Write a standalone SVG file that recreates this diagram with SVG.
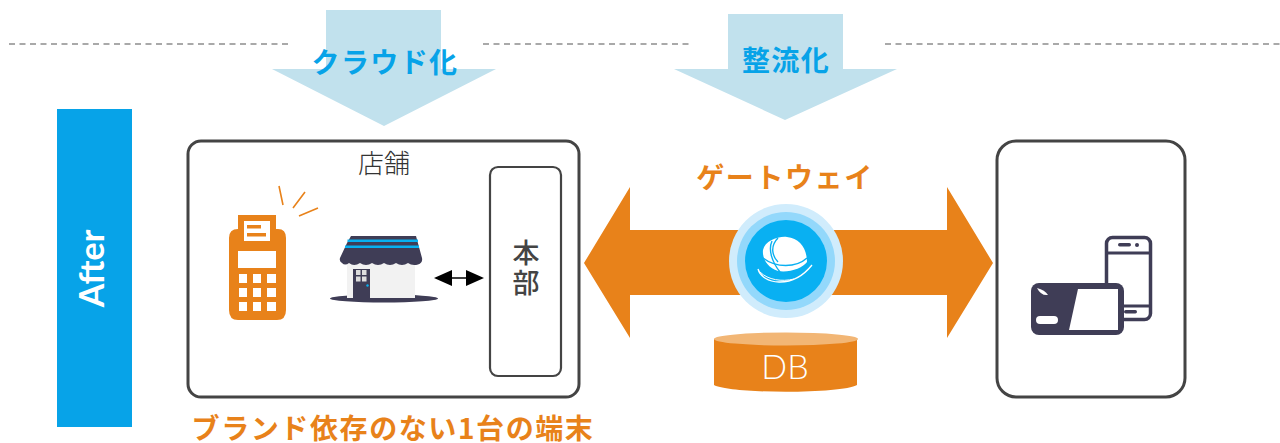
<svg xmlns="http://www.w3.org/2000/svg" width="1280" height="443" viewBox="0 0 1280 443">
<style>
text{font-family:"Noto Sans CJK JP","Noto Sans",sans-serif;text-anchor:middle}
.dash{stroke:#555;stroke-width:1.2;stroke-dasharray:6 4.5;fill:none}
.down{fill:#c1e1ed}
.blue{fill:#07a3e8;font-size:28px;font-weight:700;letter-spacing:1.4px}
.org{fill:#e8821a;font-size:28px;font-weight:700;letter-spacing:1.6px}
.box{fill:#fff;stroke:#444;stroke-width:3}
.orange{fill:#e8821a}
.navy{fill:#3f3d56}
.w{fill:#fff}
.tick{stroke:#e8821a;stroke-width:1.6;fill:none}
</style>
<g id="guides">
<path class="dash" d="M9 44H288M483 44H693M885 44H1280"/>
</g>
<g id="arrow-cloud"><path class="down" d="M326 10H441V69H496L384 126L272 69H326Z"/><text class="blue" x="385" y="73">クラウド化</text></g>
<g id="arrow-flow"><path class="down" d="M728 14H843V69H897L785 120L674 69H728Z"/><text class="blue" x="786" y="71">整流化</text></g>
<g id="after"><rect x="57" y="109" width="75" height="318" fill="#07a3e8"/><text x="0" y="0" transform="translate(104 268.500) rotate(-90)" font-size="34" font-weight="700" fill="#fff" style="font-family:Lato,sans-serif">After</text></g>
<g id="store-box"><rect class="box" x="188" y="141" width="391" height="256" rx="13"/><text x="384" y="173" font-size="26" font-weight="300" fill="#333">店舗</text></g>
<g id="pos">
<path class="tick" d="M279 186L283 205M305 192L293 208M318 208L299 216"/>
<path class="orange" d="M238 215H276V229H278Q286 229 286 238V310Q286 320 277 320H238Q229 320 229 310V238Q229 229 238 229Z"/>
<rect class="w" x="244" y="221" width="26" height="20"/>
<rect class="orange" x="247" y="225" width="14" height="3.500"/><rect class="orange" x="247" y="233" width="19" height="3.500"/>
<rect class="w" x="238" y="251" width="38" height="17"/>
<g class="w"><rect x="239" y="274" width="8" height="9"/><rect x="253" y="274" width="8" height="9"/><rect x="267" y="274" width="9" height="9"/><rect x="239" y="288" width="8" height="9"/><rect x="253" y="288" width="8" height="9"/><rect x="267" y="288" width="9" height="9"/><rect x="239" y="302" width="8" height="9"/><rect x="253" y="302" width="8" height="9"/><rect x="267" y="302" width="9" height="9"/></g>
</g>
<g id="shop">
<ellipse class="navy" cx="384" cy="298.500" rx="54" ry="4"/>
<rect x="347" y="262" width="68" height="36" fill="#f2f2f2"/>
<path class="navy" d="M351 236H416L422 258Q423 263 418 264.500Q412 266 408 263Q402 267 396 263Q390 267 384 263Q378 267 372 263Q366 267 360 263Q354 267 349 263Q345 266 342 263Q339 261 340 258L347 243Z"/>
<path d="M347.500 240.800H418M345 246.800H419" stroke="#07b0f0" stroke-width="2.500" fill="none"/>
<rect class="navy" x="353" y="269" width="17" height="29"/>
<g fill="#ddd"><rect x="356" y="270" width="4.500" height="5"/><rect x="362" y="270" width="4.500" height="5"/><rect x="356" y="276.500" width="4.500" height="5"/><rect x="362" y="276.500" width="4.500" height="5"/></g>
<circle cx="367.500" cy="285.500" r="1.200" fill="#07b0f0"/>
</g>
<g id="honbu"><rect x="490" y="167" width="71" height="209" rx="8" fill="#fff" stroke="#444" stroke-width="2.200"/><text font-size="27" fill="#444" font-weight="500"><tspan x="526" y="263">本</tspan><tspan x="526" y="293">部</tspan></text></g>
<g id="connectors">
<path d="M434 278L452 270V277.200H466V270L484 278L466 286V278.800H452V286Z" fill="#000"/>
</g>
<g id="gateway-arrow"><path class="orange" d="M584 263L630 187V230H947V187L993 263L947 338V295H630V338Z"/></g>
<g id="gateway-label"><text class="org" x="785" y="188">ゲートウェイ</text></g>
<g id="gateway-icon">
<circle cx="786" cy="261" r="57" fill="#d0ecfc"/><circle cx="786" cy="261" r="49" fill="#93d8fb"/><circle cx="786" cy="261" r="41" fill="#09b0f2"/>
<path class="w" d="M763 250C765 241 778 236 787 237C800 238 807 249 807 262C803 268 789 273 778 271C768 268 762 259 763 250Z"/>
<path d="M758 269C762 284 792 290 812 265" stroke="#fff" stroke-width="1.300" fill="none"/>
<path d="M760 272C768 280 782 282 794 279" stroke="#fff" stroke-width="1" fill="none"/>
<path d="M772 241C768 250 772 262 780 272M778 238C770 246 772 256 778 262" stroke="#09b0f2" stroke-width="1.400" fill="none"/>
<path d="M763 258C776 268 796 268 807 258" stroke="#09b0f2" stroke-width="1.400" fill="none"/>
</g>
<g id="db"><path class="orange" d="M714 339V385C730 394 842 394 857 385V339Z"/><ellipse cx="786" cy="339" rx="72" ry="6.500" fill="#f2b675"/><text x="785" y="379" font-size="34" font-weight="300" fill="#fff" style="font-family:Lato,sans-serif">DB</text></g>
<g id="device-box"><rect class="box" x="997" y="141" width="188" height="256" rx="19"/></g>
<g id="devices">
<rect x="1106.500" y="237.500" width="44" height="82" rx="6" fill="#fff" stroke="#3f3d56" stroke-width="3.500"/>
<path d="M1107 253H1150M1107 306H1150" stroke="#3f3d56" stroke-width="3"/>
<rect class="navy" x="1118" y="243" width="13" height="3.500" rx="1.700"/><circle class="navy" cx="1137" cy="245" r="2"/>
<rect class="navy" x="1124" y="310" width="13" height="3.500" rx="1.700"/>
<rect class="navy" x="1031" y="283" width="93" height="52" rx="8"/>
<path class="w" d="M1078 289H1118V330H1069Z"/>
<rect class="w" x="1036" y="316" width="22" height="8" rx="4"/>
<path class="w" d="M1037 288Q1045 290 1048 295Q1041 296 1037 288Z"/>
</g>
<g id="caption"><text class="org" x="393" y="439">ブランド依存のない1台の端末</text></g>
</svg>
